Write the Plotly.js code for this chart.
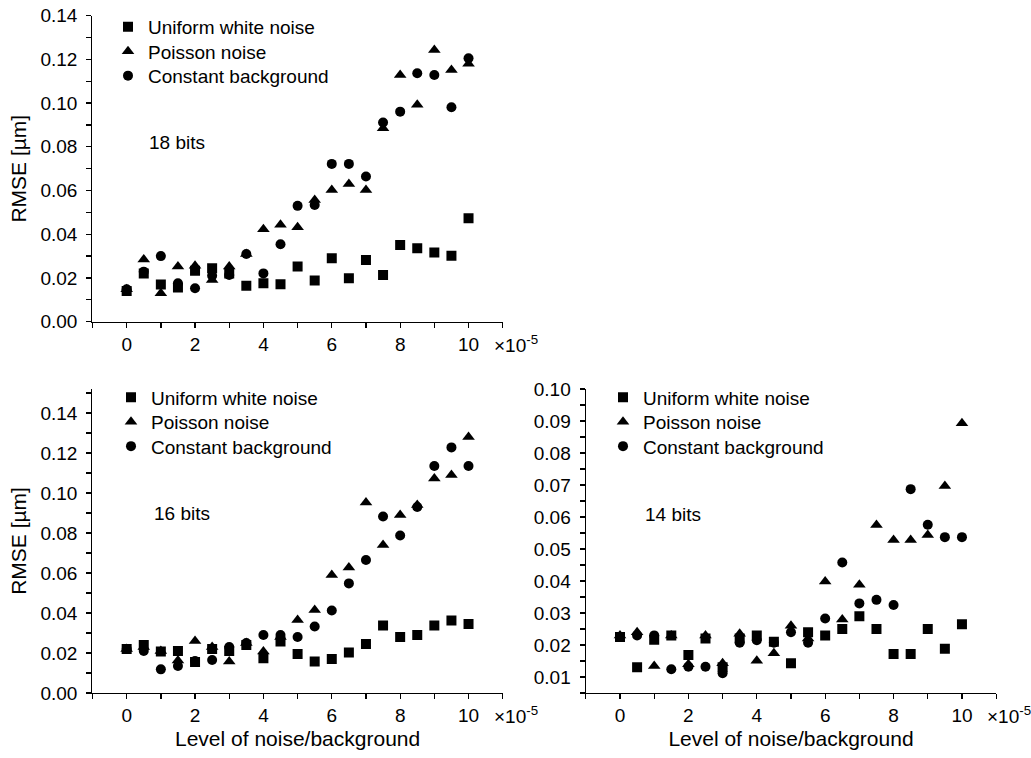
<!DOCTYPE html>
<html>
<head>
<meta charset="utf-8">
<script src="https://cdn.plot.ly/plotly-3.0.1.min.js"></script>
<style>html,body{margin:0;padding:0;background:#fff;}#chart{width:1031px;height:758px;}</style>
</head>
<body>
<div id="chart"></div>
<script>
// ---- data ----
const noiseLevel = [0,0.5,1,1.5,2,2.5,3,3.5,4,4.5,5,5.5,6,6.5,7,7.5,8,8.5,9,9.5,10]; // ×10^-5
const seriesNames = ["Uniform white noise","Poisson noise","Constant background"];
const panelLabels = ["18 bits","16 bits","14 bits"];

// 18 bits
const uniform18  = [0.014,0.022,0.017,0.0156,0.0233,0.0244,0.022,0.0165,0.0176,0.0171,0.0252,0.0188,0.029,0.0199,0.0282,0.0214,0.0351,0.0336,0.0316,0.0302,0.0473];
const poisson18  = [0.0148,0.0285,0.013,0.0252,0.0256,0.0191,0.0252,0.031,0.0423,0.0443,0.0432,0.0557,0.0603,0.063,0.0603,0.0885,0.1129,0.0992,0.1243,0.1152,0.118];
const constant18 = [0.0148,0.0229,0.030,0.0176,0.0153,0.021,0.0214,0.031,0.0221,0.0354,0.053,0.0534,0.0722,0.0722,0.0664,0.0911,0.0961,0.1137,0.1129,0.0981,0.1205];

// 16 bits
const uniform16  = [0.022,0.024,0.0207,0.021,0.0155,0.022,0.021,0.024,0.0173,0.0257,0.0195,0.0157,0.017,0.0202,0.0245,0.0337,0.028,0.029,0.0337,0.0362,0.0345];
const poisson16  = [0.022,0.023,0.021,0.0162,0.026,0.023,0.0157,0.025,0.0207,0.028,0.0365,0.0415,0.059,0.0628,0.0952,0.074,0.089,0.094,0.1073,0.109,0.128];
const constant16 = [0.022,0.021,0.0118,0.0135,0.016,0.0165,0.023,0.025,0.029,0.029,0.028,0.0332,0.0412,0.0548,0.0665,0.0882,0.0787,0.093,0.1135,0.1228,0.1135];

// 14 bits
const uniform14  = [0.0225,0.013,0.0216,0.023,0.0169,0.022,0.013,0.022,0.023,0.021,0.0143,0.024,0.023,0.025,0.029,0.025,0.0172,0.0172,0.025,0.0188,0.0265];
const poisson14  = [0.023,0.024,0.0134,0.023,0.014,0.023,0.0143,0.0235,0.0151,0.0174,0.026,0.022,0.0398,0.028,0.0388,0.0575,0.0528,0.0528,0.0544,0.0697,0.0893];
const constant14 = [0.0225,0.023,0.023,0.0124,0.0132,0.0132,0.0112,0.0207,0.0215,0.0207,0.024,0.0207,0.0283,0.0458,0.033,0.0341,0.0325,0.0687,0.0576,0.0537,0.0537];

// tick labels
const xTicks = [0,2,4,6,8,10];
const yTicksA = [0,0.02,0.04,0.06,0.08,0.10,0.12,0.14];
const yTicksB = [0.01,0.02,0.03,0.04,0.05,0.06,0.07,0.08,0.09,0.10];

// ---- build ----
const FONT = "Liberation Sans, Arial, sans-serif";
const symbols = ["square","triangle-up","circle"];
const sizes = [10,11,10];
const panels = [
  {vals:[uniform18,poisson18,constant18], xa:"x",  ya:"y",  lx:108, rows:[26.5,51,75.5]},
  {vals:[uniform16,poisson16,constant16], xa:"x2", ya:"y2", lx:111, rows:[397,421.5,446]},
  {vals:[uniform14,poisson14,constant14], xa:"x3", ya:"y3", lx:603, rows:[397,421.5,446]}
];
const W = 1031, H = 758;
const traces = [];
const layout = {
  width:W, height:H, margin:{l:0,r:0,t:0,b:0}, paper_bgcolor:"#fff", plot_bgcolor:"#fff",
  font:{family:FONT, color:"#000"}, showlegend:true
};
let li = 0;
panels.forEach(p => {
  p.vals.forEach((v,i) => {
    li++;
    const key = li === 1 ? "legend" : "legend" + li;
    traces.push({
      type:"scatter", mode:"markers", x:noiseLevel, y:v, name:seriesNames[i],
      xaxis:p.xa, yaxis:p.ya, legend:key,
      marker:{symbol:symbols[i], size:sizes[i], color:"#000", line:{width:0}},
      hoverinfo:"x+y"
    });
    layout[key] = {font:{family:FONT,size:19,color:"#000"}, bgcolor:"rgba(0,0,0,0)", borderwidth:0,
      xanchor:"left", yanchor:"top", itemwidth:30,
      x:p.lx/W, y:1-(p.rows[i]-18.7)/H};
  });
});

const tickFont = {family:FONT, size:19, color:"#000"};
const titleFont = {family:FONT, size:21, color:"#000"};
function xAxis(domain, anchor, title){
  const a = {domain:domain, anchor:anchor, range:[-1,11], tickmode:"array", tickvals:xTicks,
    ticktext:xTicks.map(String), showline:true, linecolor:"#000", linewidth:1.3,
    ticks:"outside", ticklen:5, tickwidth:1.3, tickcolor:"#000", showgrid:false, zeroline:false,
    tickfont:tickFont,
    minor:{tickmode:"linear", tick0:0, dtick:1, ticks:"outside", ticklen:5, tickwidth:1.3, tickcolor:"#000", showgrid:false}};
  if(title) a.title = {text:title, font:titleFont, standoff:6};
  return a;
}
function yAxis(domain, anchor, range, ticks, minorStep, title){
  const a = {domain:domain, anchor:anchor, range:range, tickmode:"array", tickvals:ticks,
    ticktext:ticks.map(t=>t.toFixed(2)), showline:true, linecolor:"#000", linewidth:1.3,
    ticks:"outside", ticklen:5, tickwidth:1.3, tickcolor:"#000", showgrid:false, zeroline:false,
    tickfont:tickFont, ticklabelstandoff:5,
    minor:{tickmode:"linear", tick0:0, dtick:minorStep, ticks:"outside", ticklen:5, tickwidth:1.3, tickcolor:"#000", showgrid:false}};
  if(title) a.title = {text:title, font:titleFont, standoff:8};
  return a;
}
const xdL = [0.0897,0.4876], xdR = [0.5682,0.9662];
const ydT = [0.5756,0.9793], ydB = [0.0858,0.4868];
Object.assign(layout, {
  xaxis: xAxis(xdL,"y",null),
  yaxis: yAxis(ydT,"x",[0,0.14],yTicksA,0.01,"RMSE [µm]"),
  xaxis2: xAxis(xdL,"y2","Level of noise/background"),
  yaxis2: yAxis(ydB,"x2",[0,0.152],yTicksA,0.01,"RMSE [µm]"),
  xaxis3: xAxis(xdR,"y3","Level of noise/background"),
  yaxis3: yAxis(ydB,"x3",[0.005,0.10],yTicksB,0.005,null),
  annotations: [
    {text:panelLabels[0], xref:"x domain", yref:"y domain", x:0.133, y:0.584, xanchor:"left", yanchor:"middle", showarrow:false, font:{family:FONT,size:19,color:"#000"}},
    {text:panelLabels[1], xref:"x2 domain", yref:"y2 domain", x:0.146, y:0.589, xanchor:"left", yanchor:"middle", showarrow:false, font:{family:FONT,size:19,color:"#000"}},
    {text:panelLabels[2], xref:"x3 domain", yref:"y3 domain", x:0.139, y:0.586, xanchor:"left", yanchor:"middle", showarrow:false, font:{family:FONT,size:19,color:"#000"}},
    {text:"×10<sup>-5</sup>", xref:"x domain", yref:"y domain", x:1, y:0, xanchor:"left", yanchor:"middle", xshift:-11, yshift:-22, showarrow:false, font:{family:FONT,size:19,color:"#000"}},
    {text:"×10<sup>-5</sup>", xref:"x2 domain", yref:"y2 domain", x:1, y:0, xanchor:"left", yanchor:"middle", xshift:-11, yshift:-22, showarrow:false, font:{family:FONT,size:19,color:"#000"}},
    {text:"×10<sup>-5</sup>", xref:"x3 domain", yref:"y3 domain", x:1, y:0, xanchor:"left", yanchor:"middle", xshift:-11, yshift:-22, showarrow:false, font:{family:FONT,size:19,color:"#000"}}
  ]
});
Plotly.newPlot("chart", traces, layout, {displayModeBar:false, staticPlot:true});
</script>
</body>
</html>
